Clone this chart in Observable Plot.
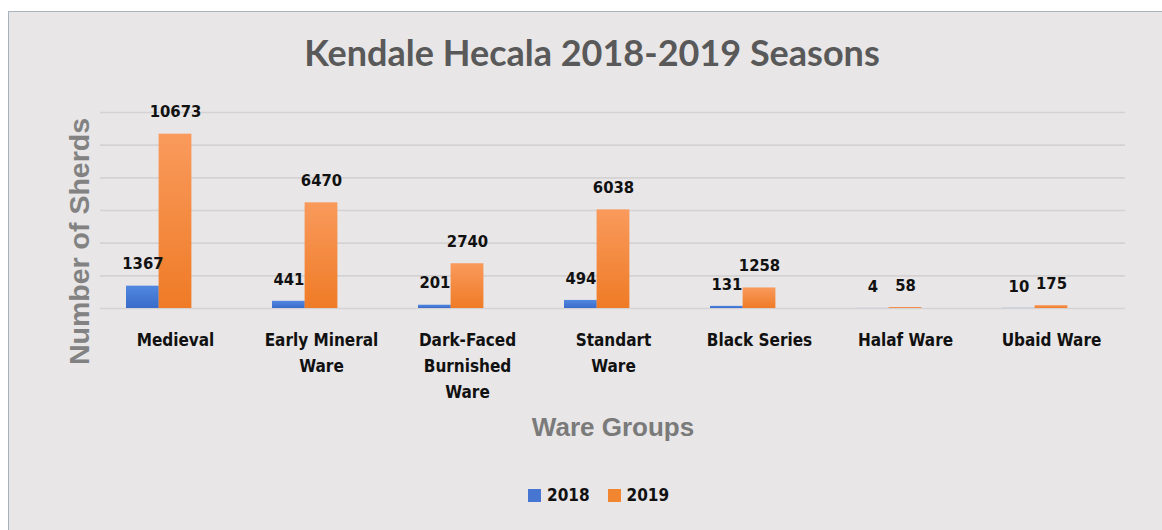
<!DOCTYPE html>
<html>
<head>
<meta charset="utf-8">
<script src="https://cdn.jsdelivr.net/npm/d3@7"></script>
<script src="https://cdn.jsdelivr.net/npm/@observablehq/plot@0.6"></script>
<style>
  html, body { margin: 0; padding: 0; background: #ffffff; }
  body { width: 1162px; height: 530px; position: relative; overflow: hidden; }
  #panel { position: absolute; left: 8px; top: 11px; width: 1160px; height: 525px;
           background: #e8e6e7; border-left: 1.5px solid #a9b3bd; border-top: 1.5px solid #a9b3bd; }
  #title { position: absolute; left: 0; width: 1184px; top: 29px; text-align: center;
           font-family: Lato, "Open Sans", sans-serif; font-weight: bold; font-size: 36px; color: #595959; line-height: 46px; }
  #chart { position: absolute; left: 0; top: 80px; }
  #legend { position: absolute; left: 528px; top: 485px; display: flex; align-items: center; gap: 18px;
            font-family: "DejaVu Sans Condensed", "DejaVu Sans", sans-serif; font-weight: bold; font-size: 17px; color: #111; }
  .item { display: flex; align-items: center; gap: 6px; }
  .swatch { width: 13px; height: 13px; display: inline-block; }
</style>
</head>
<body>
<div id="panel"></div>
<div id="title">Kendale Hecala 2018-2019 Seasons</div>
<div id="chart"></div>
<div id="legend"></div>
<script>
// ---- data ----
const categories = ["Medieval", "Early Mineral Ware", "Dark-Faced Burnished Ware", "Standart Ware", "Black Series", "Halaf Ware", "Ubaid Ware"];
const tickLabels = ["Medieval", "Early Mineral\nWare", "Dark-Faced\nBurnished\nWare", "Standart\nWare", "Black Series", "Halaf Ware", "Ubaid Ware"];
const series = ["2018", "2019"];
const values2018 = [1367, 441, 201, 494, 131, 4, 10];
const values2019 = [10673, 6470, 2740, 6038, 1258, 58, 175];
const yTicks = [0, 2000, 4000, 6000, 8000, 10000, 12000];
const seriesColors = ["#4675d2", "#f2852f"];

const rows2018 = categories.map((c, i) => ({category: c, series: "2018", value: values2018[i]}));
const rows2019 = categories.map((c, i) => ({category: c, series: "2019", value: values2019[i]}));

const W = 1162, H = 370;
const mL = 100, mR = 37, mT = 32, mB = 142;
const padInner = 0.332;
const step = (W - mL - mR) / categories.length;
const bw = step * (1 - padInner);
const third = bw / 3;

const labelFont = "'DejaVu Sans Condensed', 'DejaVu Sans', sans-serif";

const gradients = () => {
  const defs = d3.create("svg:defs");
  const g1 = defs.append("linearGradient").attr("id", "g2018").attr("x1", 0).attr("y1", 0).attr("x2", 0).attr("y2", 1);
  g1.append("stop").attr("offset", "0%").attr("stop-color", "#5188e0");
  g1.append("stop").attr("offset", "100%").attr("stop-color", "#3a6bc9");
  const g2 = defs.append("linearGradient").attr("id", "g2019").attr("x1", 0).attr("y1", 0).attr("x2", 0).attr("y2", 1);
  g2.append("stop").attr("offset", "0%").attr("stop-color", "#f99a5c");
  g2.append("stop").attr("offset", "100%").attr("stop-color", "#ef7b26");
  return defs.node();
};

const chart = Plot.plot({
  width: W,
  height: H,
  marginLeft: mL,
  marginRight: mR,
  marginTop: mT,
  marginBottom: mB,
  style: {background: "transparent", overflow: "visible"},
  x: {domain: categories, paddingInner: padInner, paddingOuter: padInner / 2, axis: null},
  y: {domain: [0, 12000], axis: null},
  marks: [
    gradients,
    Plot.ruleY(yTicks, {stroke: "#d4d2d2", strokeWidth: 1.6}),
    Plot.barY(rows2018, {x: "category", y: "value", fill: "url(#g2018)", insetRight: 2 * third}),
    Plot.barY(rows2019, {x: "category", y: "value", fill: "url(#g2019)", insetLeft: third, insetRight: third}),
    Plot.text(rows2018, {x: "category", y: "value", text: d => String(d.value), dx: -third, dy: -22,
      fontFamily: labelFont, fontWeight: "bold", fontSize: 16.5, fill: "#111"}),
    Plot.text(rows2019, {x: "category", y: "value", text: d => String(d.value), dy: -22,
      fontFamily: labelFont, fontWeight: "bold", fontSize: 16.5, fill: "#111"}),
    Plot.axisX({tickSize: 0, tickPadding: 19, tickFormat: d => tickLabels[categories.indexOf(d)],
      fontFamily: labelFont, fontWeight: "bold", fontSize: 17, fill: "#111", lineHeight: 1.53, label: null}),
    Plot.text(["Number of Sherds"], {frameAnchor: "left", textAnchor: "middle", lineAnchor: "middle",
      text: d => d, rotate: -90, dx: -21, dy: 31,
      fontFamily: "'Liberation Sans', Arial, sans-serif", fontWeight: "bold", fontSize: 28.5, fill: "#828282"}),
    Plot.text(["Ware Groups"], {frameAnchor: "bottom", lineAnchor: "middle", text: d => d, dy: 119,
      fontFamily: "'Liberation Sans', Arial, sans-serif", fontWeight: "bold", fontSize: 26, fill: "#7a7a7a"})
  ]
});
document.getElementById("chart").appendChild(chart);

const legend = document.getElementById("legend");
series.forEach((s, i) => {
  const item = document.createElement("div");
  item.className = "item";
  const sw = document.createElement("span");
  sw.className = "swatch";
  sw.style.background = seriesColors[i];
  const t = document.createElement("span");
  t.textContent = s;
  item.appendChild(sw);
  item.appendChild(t);
  legend.appendChild(item);
});
</script>
</body>
</html>
